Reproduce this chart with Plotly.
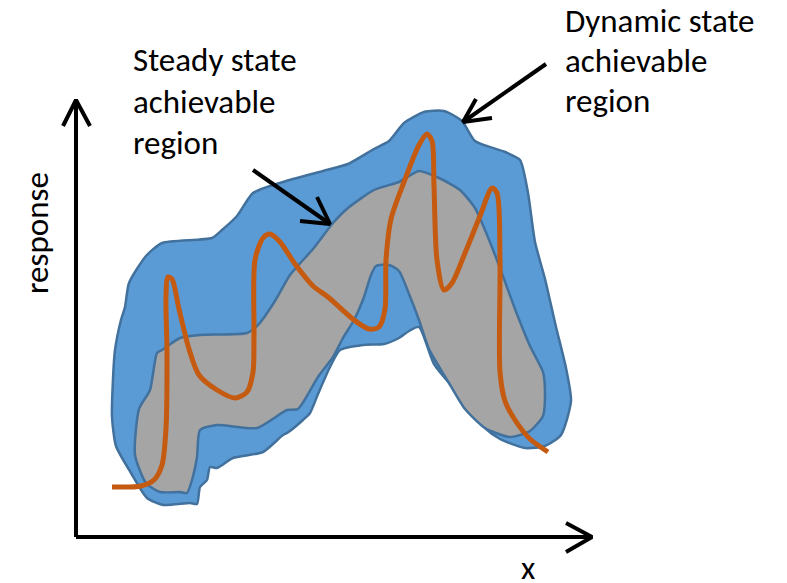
import plotly.graph_objects as go

# Outer "dynamic state achievable region" outline (x, y in diagram units; y grows downward)
dyn_x = [116, 112, 113, 115, 121, 125, 129, 146, 162, 212, 222, 237, 253, 283, 323, 348, 374, 389, 404, 424, 444,
         462, 475, 505, 520, 528, 535, 545, 556, 566, 571, 561, 545, 525, 500, 485, 455, 434, 419, 409, 399,
         384, 363, 340, 330, 318, 310, 303, 287, 283, 263, 233, 217, 210, 207, 200, 197, 190, 163, 147, 131]
dyn_y = [446, 417, 379, 350, 320, 307, 283, 256, 243, 238, 230, 216, 193, 182, 171, 164, 149, 141, 123, 112, 111,
         121, 141, 152, 160, 193, 242, 279, 327, 368, 401, 435, 446, 448, 439, 428, 390, 364, 327, 331, 338,
         344, 345, 350, 367, 394, 413, 420, 433, 435, 452, 458, 468, 467, 480, 487, 504, 503, 505, 498, 473]

# Inner "steady state achievable region" outline
ss_x = [146, 135, 139, 150, 157, 162, 180, 200, 247, 258, 275, 290, 313, 333, 348, 374, 399, 419, 439, 460, 475,
        485, 500, 515, 530, 543, 545, 543, 530, 510, 485, 465, 449, 429, 419, 409, 399, 389, 376, 371, 364,
        354, 343, 333, 318, 298, 287, 257, 217, 200, 197, 192, 187, 180, 160]
ss_y = [483, 455, 409, 390, 353, 350, 338, 335, 333, 325, 301, 275, 249, 223, 208, 190, 182, 171, 178, 190, 208,
        230, 268, 309, 346, 372, 394, 416, 431, 437, 428, 409, 383, 349, 320, 294, 271, 265, 266, 275, 297,
        320, 338, 357, 377, 409, 410, 428, 425, 430, 457, 480, 493, 492, 492]

# Orange response trajectory
resp_x = [112, 141, 154, 162, 166, 167, 166, 168, 172, 179, 189, 199, 217, 235, 247, 253, 254, 255, 263, 270,
          280, 295, 313, 328, 354, 369, 379, 385, 386, 391, 404, 419, 427, 432, 434, 437, 444, 452, 465, 480,
          492, 497, 500, 500, 505, 515, 530, 548]
resp_y = [487, 486, 480, 465, 428, 353, 297, 277, 279, 309, 349, 375, 390, 398, 392, 372, 335, 260, 238, 234,
          242, 264, 286, 297, 320, 329, 327, 309, 260, 219, 182, 145, 134, 141, 186, 260, 290, 283, 253, 216,
          188, 193, 260, 372, 401, 420, 439, 452]

# Axes with arrowheads
yaxis_x = [76, 76, None, 63, 76, 90]
yaxis_y = [537, 100, None, 126, 100, 126]
xaxis_x = [76, 592, None, 566, 592, 566]
xaxis_y = [537, 537, None, 523, 537, 552]

# Pointer arrows
ss_arrow_x = [253, 330, None, 317, 330, 300]
ss_arrow_y = [170, 224, None, 197, 224, 221]
dyn_arrow_x = [546, 463, None, 476, 463, 492]
dyn_arrow_y = [64, 122, None, 99, 122, 118]

ss_label = ["Steady state", "achievable", "region"]
dyn_label = ["Dynamic state", "achievable", "region"]

FONT = "Carlito, Lato, 'Open Sans', sans-serif"
OUTLINE = "#41719C"
FS = 33

fig = go.Figure()
fig.add_trace(go.Scatter(x=dyn_x + [dyn_x[0]], y=dyn_y + [dyn_y[0]], mode="lines", fill="toself",
                         fillcolor="#5B9BD5", line=dict(color=OUTLINE, width=2.5, shape="spline", smoothing=0.6),
                         hoverinfo="skip"))
fig.add_trace(go.Scatter(x=ss_x + [ss_x[0]], y=ss_y + [ss_y[0]], mode="lines", fill="toself",
                         fillcolor="#A5A5A5", line=dict(color=OUTLINE, width=2.5, shape="spline", smoothing=0.6),
                         hoverinfo="skip"))
fig.add_trace(go.Scatter(x=resp_x, y=resp_y, mode="lines",
                         line=dict(color="#C55A11", width=5, shape="spline", smoothing=0.8),
                         hoverinfo="skip"))
for xs, ys in [(yaxis_x, yaxis_y), (xaxis_x, xaxis_y), (ss_arrow_x, ss_arrow_y), (dyn_arrow_x, dyn_arrow_y)]:
    fig.add_trace(go.Scatter(x=xs, y=ys, mode="lines", line=dict(color="black", width=4),
                             hoverinfo="skip"))

annots = []
for i, t in enumerate(ss_label):
    annots.append(dict(x=131, y=60 + 41.5 * i, text=t, xanchor="left", yanchor="middle", showarrow=False,
                       font=dict(family=FONT, size=FS, color="black")))
for i, t in enumerate(dyn_label):
    annots.append(dict(x=563, y=21 + 40 * i, text=t, xanchor="left", yanchor="middle", showarrow=False,
                       font=dict(family=FONT, size=FS, color="black")))
annots.append(dict(x=37, y=233, text="response", textangle=-90, showarrow=False, xanchor="center",
                   yanchor="middle", font=dict(family=FONT, size=FS, color="black")))
annots.append(dict(x=528, y=568, text="x", showarrow=False, xanchor="center", yanchor="middle",
                   font=dict(family=FONT, size=FS, color="black")))

# The page body has an 8px margin; size the figure so diagram units equal window pixels.
fig.update_layout(width=779, height=575, margin=dict(l=0, r=0, t=0, b=0),
                  plot_bgcolor="white", paper_bgcolor="white", showlegend=False,
                  xaxis=dict(range=[8, 787], visible=False, fixedrange=True),
                  yaxis=dict(range=[583, 8], visible=False, fixedrange=True),
                  annotations=annots)
fig.write_html("out.html")
